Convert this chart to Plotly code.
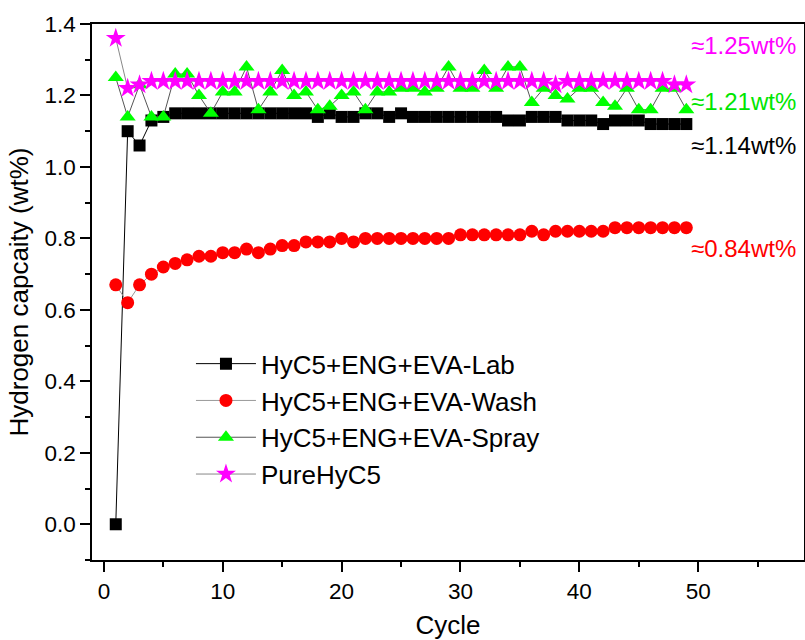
import plotly.graph_objects as go

# Cycle numbers and hydrogen capacity (wt%) per sample
cycles = list(range(1, 50))

lab = [0.00, 1.10, 1.06, 1.13, 1.14,
       1.15, 1.15, 1.15, 1.15, 1.15, 1.15, 1.15, 1.15, 1.15, 1.15, 1.15, 1.15,
       1.14, 1.15, 1.14, 1.14, 1.15, 1.15, 1.14, 1.15,
       1.14, 1.14, 1.14, 1.14, 1.14, 1.14, 1.14, 1.14,
       1.13, 1.13, 1.14, 1.14, 1.14, 1.13, 1.13, 1.13,
       1.12, 1.13, 1.13, 1.13, 1.12, 1.12, 1.12, 1.12]

wash = [0.67, 0.62, 0.67, 0.70, 0.72, 0.73, 0.74, 0.75, 0.75, 0.76,
        0.76, 0.77, 0.76, 0.77, 0.78, 0.78, 0.79, 0.79, 0.79, 0.80,
        0.79, 0.80, 0.80, 0.80, 0.80, 0.80, 0.80, 0.80, 0.80, 0.81,
        0.81, 0.81, 0.81, 0.81, 0.81, 0.82, 0.81, 0.82, 0.82, 0.82,
        0.82, 0.82, 0.83, 0.83, 0.83, 0.83, 0.83, 0.83, 0.83]

spray = [1.25, 1.14, 1.23, 1.14, 1.14, 1.26, 1.26, 1.20, 1.15, 1.21,
         1.21, 1.28, 1.16, 1.21, 1.27, 1.20, 1.21, 1.16, 1.17, 1.20,
         1.21, 1.16, 1.21, 1.21, 1.22, 1.22, 1.21, 1.22, 1.28, 1.22,
         1.22, 1.27, 1.22, 1.28, 1.28, 1.18, 1.22, 1.20, 1.19, 1.22,
         1.22, 1.18, 1.17, 1.22, 1.16, 1.16, 1.22, 1.22, 1.16]

pure = [1.36, 1.22, 1.23] + [1.24] * 34 + [1.23] + [1.24] * 9 + [1.23, 1.23]

series_names = ["HyC5+ENG+EVA-Lab", "HyC5+ENG+EVA-Wash",
                "HyC5+ENG+EVA-Spray", "PureHyC5"]

# Average capacity labels on the right
avg_labels = ["≈1.25wt%", "≈1.21wt%", "≈1.14wt%", "≈0.84wt%"]

FONT = "Liberation Sans, Arial, sans-serif"

fig = go.Figure()

styles = [
    dict(data=lab, symbol="square", msize=12, mcolor="#000000", lcolor="#000000"),
    dict(data=wash, symbol="circle", msize=13, mcolor="#ff0000", lcolor="#9a9a9a"),
    dict(data=spray, symbol="triangle-up", msize=14, mcolor="#00ff00", lcolor="#555555"),
    dict(data=pure, symbol="star", msize=15, mcolor="#ff00ff", lcolor="#888888"),
]

for name, st in zip(series_names, styles):
    fig.add_trace(go.Scatter(
        x=cycles, y=st["data"], name=name, mode="lines+markers",
        line=dict(color=st["lcolor"], width=1),
        marker=dict(symbol=st["symbol"], size=st["msize"], color=st["mcolor"],
                    line=dict(width=0)),
        cliponaxis=False,
    ))

label_colors = ["#ff00ff", "#00e600", "#000000", "#ff0000"]
label_y = [0.959, 0.855, 0.774, 0.582]
for txt, col, yy in zip(avg_labels, label_colors, label_y):
    fig.add_annotation(text=txt, xref="paper", yref="paper", x=0.839, y=yy,
                       xanchor="left", yanchor="middle", showarrow=False,
                       font=dict(family=FONT, size=24, color=col))

axis_common = dict(
    showline=True, linecolor="black", linewidth=1.5, mirror=True,
    ticks="outside", ticklen=10, tickwidth=1.5, tickcolor="black",
    showgrid=False, zeroline=False, automargin=False,
    tickfont=dict(family=FONT, size=22.5, color="black"),
)

fig.update_xaxes(
    range=[-1, 58.9], tickmode="array", tickvals=[0, 10, 20, 30, 40, 50],
    minor=dict(ticks="outside", ticklen=5, tickwidth=1.5, tickcolor="black", dtick=5, tick0=0),
    title=dict(text="Cycle", font=dict(family=FONT, size=26, color="black"), standoff=20),
    **axis_common,
)
fig.update_yaxes(
    range=[-0.1, 1.4], tickmode="array", tickvals=[0, 0.2, 0.4, 0.6, 0.8, 1.0, 1.2, 1.4],
    tickformat=".1f",
    minor=dict(ticks="outside", ticklen=5, tickwidth=1.5, tickcolor="black", dtick=0.1, tick0=0),
    title=dict(text="Hydrogen capcaity (wt%)", font=dict(family=FONT, size=26, color="black"), standoff=8),
    **axis_common,
)

fig.update_layout(
    width=805, height=640,
    margin=dict(l=92, r=1, t=24, b=80),
    plot_bgcolor="white", paper_bgcolor="white",
    showlegend=True,
    legend=dict(x=0.139, y=0.410, xanchor="left", yanchor="top",
                bgcolor="rgba(0,0,0,0)", itemwidth=60,
                font=dict(family=FONT, size=26, color="black"),
                tracegroupgap=0),
)

fig.write_html("out.html")
